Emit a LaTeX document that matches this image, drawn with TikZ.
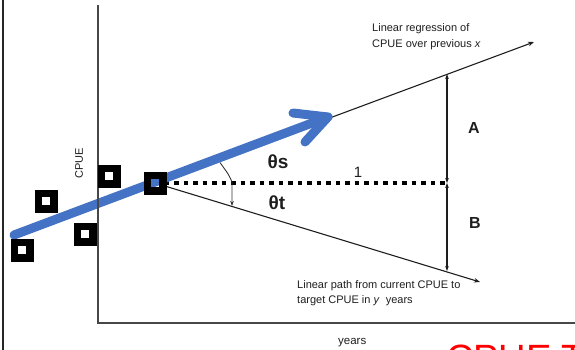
\documentclass[tikz,border=0pt]{standalone}
\usepackage{fontspec}
\setmainfont{Liberation Sans}
\usetikzlibrary{arrows.meta,backgrounds}
\definecolor{regblue}{HTML}{4472C4}
\definecolor{ink}{HTML}{1E1E1E}
\begin{document}
\begin{tikzpicture}[x=1pt,y=-1pt,
  axis/.style={draw=black!72, line width=1.1pt},
  frame/.style={draw=black!85, line width=2pt},
  obs/.style={rectangle, draw=black, line width=7.5pt, minimum size=15.5pt, inner sep=0pt},
  trend/.style={draw=ink, line width=1.1pt, -{Stealth[length=6pt,width=4.5pt]}},
  level/.style={draw=black, line width=4pt, dash pattern=on 4.5pt off 5pt},
  dimline/.style={draw=ink, line width=1.1pt, {Stealth[length=5pt,width=3.6pt]}-{Stealth[length=5pt,width=3.6pt]}},
  anglearc/.style={draw=black!80, line width=0.9pt, -{Stealth[length=5pt,width=3.6pt]}},
  regr/.style={draw=regblue, line width=9pt, line cap=round, line join=round},
  note/.style={anchor=base west, inner sep=0pt, text=ink, font=\fontsize{11}{13}\selectfont},
  biglbl/.style={inner sep=0pt, text=ink, font=\fontsize{19}{21}\selectfont\bfseries},
  sidelbl/.style={inner sep=0pt, text=ink, font=\fontsize{16}{18}\selectfont\bfseries},
  redtxt/.style={anchor=base west, inner sep=0pt, text=red, font=\fontsize{38}{40}\selectfont}
]
\clip (0,0) rectangle (575,349);
\useasboundingbox (0,0) rectangle (575,349);

% page edge line and axes
\coordinate (edgeT) at (3,-2);
\coordinate (edgeB) at (3,352);
\draw[frame] (edgeT) -- (edgeB);
\coordinate (ytop) at (98,5);
\coordinate (origin) at (98,323);
\coordinate (xend) at (578,323);
\draw[axis] (ytop) -- (origin) -- (xend);

% axis titles
\node[rotate=90, inner sep=0pt, text=ink, font=\fontsize{11}{13}\selectfont] (ylab) at (79,163) {CPUE};
\node[note, font=\fontsize{11.5}{13}\selectfont] (xlab) at (338,344.3) {years};

% observations
\node[obs] (p1) at (22,250) {};
\node[obs] (p2) at (46,201) {};
\node[obs] (p3) at (85,234) {};
\node[obs] (p4) at (109,176) {};
\node[obs] (p5) at (155,183) {};

% end points of the trend lines
\coordinate (upEnd) at (534,42);
\coordinate (dnEnd) at (480,282);
\coordinate (mid) at (447,183);
\coordinate (aTop) at (447,74);
\coordinate (bBot) at (447,271);

% regression arrow
\coordinate (r0) at (14,235);
\coordinate (rtip) at (328,117);
\coordinate (barbU) at (293,113);
\coordinate (barbL) at (305,142);

% angle marker
\coordinate (ang0) at (220,162.5);
\coordinate (ang1) at (232,182);
\coordinate (ang2) at (232,206);

\begin{scope}[on background layer]
  \draw[trend] (p5.center) -- (upEnd);
  \draw[trend] (p5.center) -- (dnEnd);
  \draw[level] (p5.center) -- (mid);
  \draw[dimline] (mid) -- (aTop);
  \draw[dimline] (mid) -- (bBot);
  \draw[anglearc] (ang0) .. controls (229,175) .. (ang1) -- (ang2);
  \draw[regr] (r0) -- (rtip);
  \draw[regr] (barbU) -- (rtip) -- (barbL);
\end{scope}

% labels
\node[biglbl] (ths) at (278,162) {θs};
\node[biglbl] (tht) at (277,203) {θt};
\node[inner sep=0pt, text=ink, font=\fontsize{15}{17}\selectfont] (one) at (358,172) {1};
\node[sidelbl] (lblA) at (474,128) {A};
\node[sidelbl] (lblB) at (475,223) {B};

\node[note] (n1a) at (372,31.7) {Linear regression of};
\node[note] (n1b) at (372,47.7) {CPUE over previous \textit{x}};
\node[note] (n2a) at (297,288.3) {Linear path from current CPUE to};
\node[note] (n2b) at (297,303.8) {target CPUE in \textit{y}\ \ years};

% slide title running below
\node[redtxt] (ttl1) at (446,371) {CPUE};
\node[redtxt] (ttl2) at (561,371) {T};
\end{tikzpicture}
\end{document}
